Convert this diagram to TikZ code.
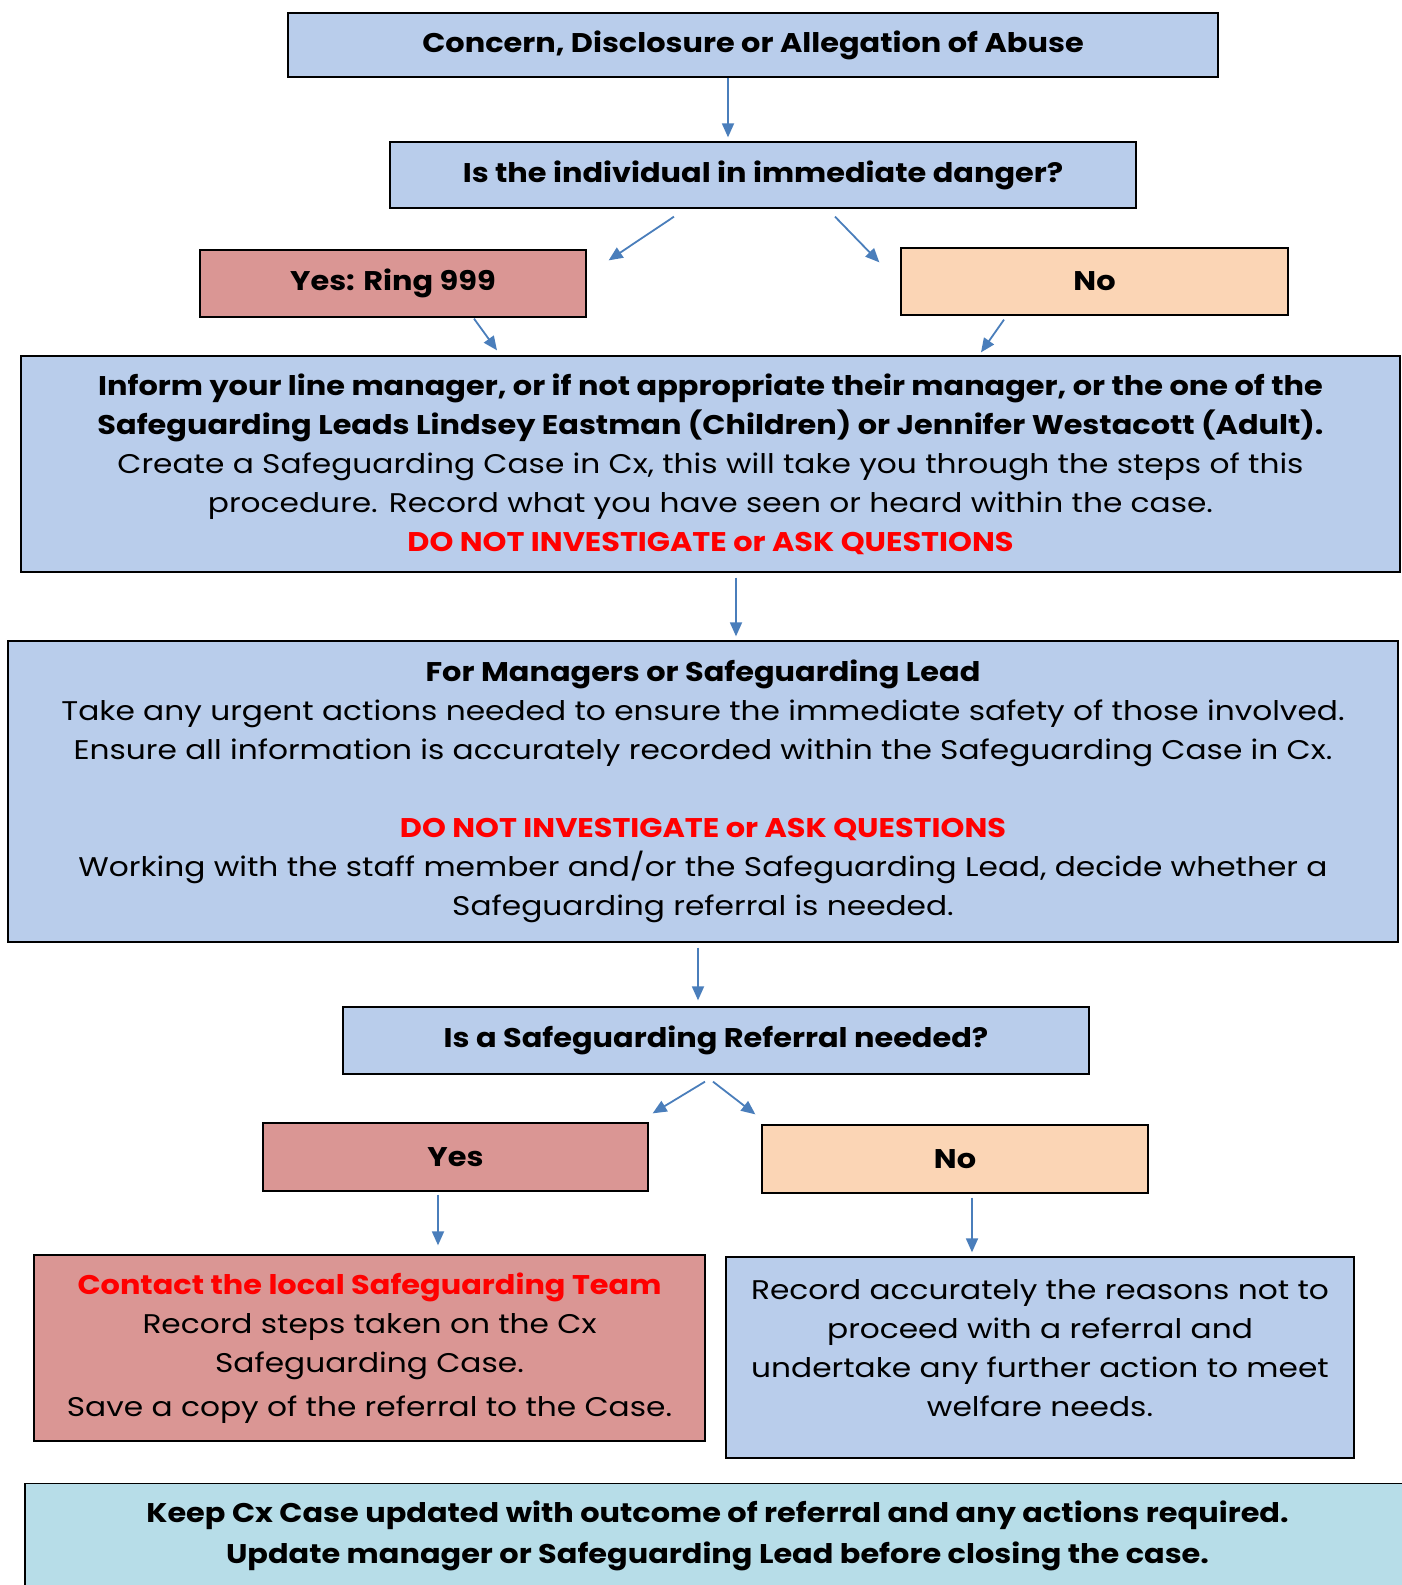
\documentclass[tikz,border=0pt]{standalone}
\usepackage{fontspec}
\setmainfont{Poppins}[FakeStretch=1.157, BoldFeatures={FakeStretch=1.125}]
\usetikzlibrary{arrows.meta}

\definecolor{boxblue}{HTML}{B9CDEB}
\definecolor{boxred}{HTML}{DA9694}
\definecolor{boxpeach}{HTML}{FBD5B5}
\definecolor{boxcyan}{HTML}{B7DDE8}
\definecolor{arrowblue}{HTML}{4A7EBB}
\definecolor{alertred}{HTML}{FF0000}

\begin{document}
\begin{tikzpicture}[x=1pt,y=-1pt,
    box/.style={draw=black, line width=1.3pt, align=center, inner sep=0pt,
                font=\fontsize{27}{39}\selectfont},
    arr/.style={draw=arrowblue, line width=1.8pt,
                -{Triangle[length=14pt,width=12pt]}}]
      \useasboundingbox (0,0) rectangle (1402,1585);

      % top of the chart
      \node[box,fill=boxblue,minimum width=930,minimum height=64] (concern) at (753,45)
        {\bfseries Concern, Disclosure or Allegation of Abuse};
      \node[box,fill=boxblue,minimum width=746,minimum height=66] (ask) at (763,175)
        {\bfseries Is the individual in immediate danger?};
      \node[box,fill=boxred,minimum width=386,minimum height=67] (yes999) at (393,283.5)
        {\bfseries Yes: Ring 999};
      \node[box,fill=boxpeach,minimum width=387,minimum height=67] (nodanger) at (1094.5,281.5)
        {\bfseries No};

      \node[box,fill=boxblue,minimum width=1379,minimum height=216] (inform) at (710.5,464)
        {\bfseries Inform your line manager, or if not appropriate their manager, or the one of the\\
         \bfseries Safeguarding Leads Lindsey Eastman (Children) or Jennifer Westacott (Adult).\\
         Create a Safeguarding Case in Cx, this will take you through the steps of this\\
         procedure. Record what you have seen or heard within the case.\\
         \bfseries\color{alertred}DO NOT INVESTIGATE or ASK QUESTIONS};

      \node[box,fill=boxblue,minimum width=1390,minimum height=301] (managers) at (703,791.5)
        {\bfseries For Managers or Safeguarding Lead\\
         Take any urgent actions needed to ensure the immediate safety of those involved.\\
         Ensure all information is accurately recorded within the Safeguarding Case in Cx.\\[39pt]
         \bfseries\color{alertred}DO NOT INVESTIGATE or ASK QUESTIONS\\
         Working with the staff member and/or the Safeguarding Lead, decide whether a\\
         Safeguarding referral is needed.};

      % referral decision
      \node[box,fill=boxblue,minimum width=746,minimum height=67] (referral) at (716,1040.5)
        {\bfseries Is a Safeguarding Referral needed?};
      \node[box,fill=boxred,minimum width=385,minimum height=68] (yesref) at (455.5,1157)
        {\bfseries Yes};
      \node[box,fill=boxpeach,minimum width=386,minimum height=68] (noref) at (955,1159)
        {\bfseries No};

      \node[box,fill=boxred,minimum width=671,minimum height=186] (contact) at (369.5,1348)
        {\bfseries\color{alertred}Contact the local Safeguarding Team\\
         Record steps taken on the Cx\\
         Safeguarding Case.\\[5pt]
         Save a copy of the referral to the Case.};
      \node[box,fill=boxblue,minimum width=628,minimum height=201] (record) at (1040,1357.5)
        {Record accurately the reasons not to\\
         proceed with a referral and\\
         undertake any further action to meet\\
         welfare needs.\\[-20pt]\mbox{}};

      \node[box,fill=boxcyan,minimum width=1385,minimum height=105,
            font=\fontsize{27}{41}\selectfont] (keep) at (717.5,1536)
        {\bfseries Keep Cx Case updated with outcome of referral and any actions required.\\
         \bfseries Update manager or Safeguarding Lead before closing the case.};

      % arrows
      \draw[arr] ([xshift=-25pt]concern.south) -- ([xshift=-35pt,yshift=4pt]ask.north);
      \draw[arr] ([xshift=-89pt,yshift=-8pt]ask.south) -- ([xshift=22pt,yshift=-11pt]yes999.north east);
      \draw[arr] ([xshift=72pt,yshift=-8pt]ask.south) -- ([xshift=-21pt,yshift=-15pt]nodanger.north west);
      \draw[arr] ([xshift=81pt,yshift=-1pt]yes999.south) -- ([xshift=-213.5pt,yshift=5pt]inform.north);
      \draw[arr] ([xshift=-90.5pt,yshift=-4pt]nodanger.south) -- ([xshift=270.5pt,yshift=3pt]inform.north);
      \draw[arr] ([xshift=25.5pt,yshift=-5pt]inform.south) -- ([xshift=33pt,yshift=4pt]managers.north);
      \draw[arr] ([xshift=-5pt,yshift=-5pt]managers.south) -- ([xshift=-18pt,yshift=6pt]referral.north);
      \draw[arr] ([xshift=-11pt,yshift=-7pt]referral.south) -- ([xshift=4pt,yshift=9pt]yesref.north east);
      \draw[arr] ([xshift=-3pt,yshift=-7pt]referral.south) -- ([xshift=-6pt,yshift=10pt]noref.north west);
      \draw[arr] ([xshift=-17.5pt,yshift=-3pt]yesref.south) -- ([xshift=68.5pt,yshift=9pt]contact.north);
      \draw[arr] ([xshift=17pt,yshift=-4pt]noref.south) -- ([xshift=-68pt,yshift=4pt]record.north);
    \end{tikzpicture}
\end{document}
